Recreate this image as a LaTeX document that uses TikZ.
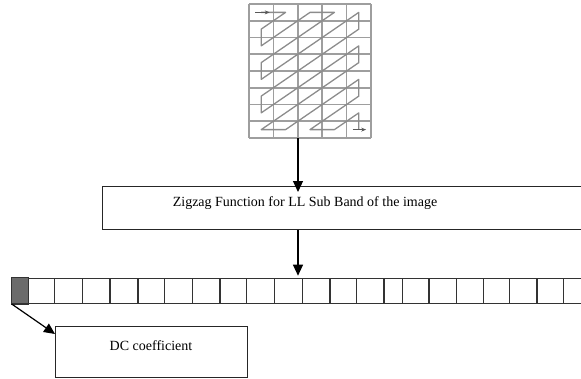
\documentclass[tikz,border=0pt]{standalone}
\usepackage{fontspec}
\setmainfont{Liberation Serif}
\usetikzlibrary{arrows.meta,calc}
\begin{document}
\begin{tikzpicture}[x=1pt,y=-1pt,
  gridline/.style={draw=black!38,line width=1.7pt},
  scanline/.style={draw=black!45,line width=1.3pt,line join=round},
  boxline/.style={draw=black!85,line width=1.2pt,inner sep=0pt,anchor=north west},
  flow/.style={draw=black,line width=1.2pt,-{Triangle[length=11pt,width=10pt]}},
  cellbox/.style={draw=black!80,line width=1.3pt,minimum height=25pt,inner sep=0pt,anchor=north west},
  txt/.style={font=\fontsize{14}{16}\selectfont,inner sep=0pt}
]
\clip (0,0) rectangle (581,378);

% 5 x 8 block with the zigzag scan order
\node[inner sep=0pt,minimum width=122pt,minimum height=134pt,anchor=north west] (grid) at (249,4) {};
\begin{scope}[shift={(grid.north west)},x=24.4pt,y=-16.75pt]
  \foreach \i in {0,...,5} \draw[gridline] (\i,0) -- (\i,8);
  \foreach \j in {0,...,8} \draw[gridline] (0,\j) -- (5,\j);
  \draw[scanline] (0.5,0.5) -- (1.5,0.5) -- (0.5,1.5) -- (0.5,2.5) -- (2.5,0.5) -- (3.5,0.5)
    -- (0.5,3.5) -- (0.5,4.5) -- (4.5,0.5) -- (4.5,1.5) -- (0.5,5.5) -- (0.5,6.5)
    -- (4.5,2.5) -- (4.5,3.5) -- (0.5,7.5) -- (1.5,7.5) -- (4.5,4.5) -- (4.5,5.5)
    -- (2.5,7.5) -- (3.5,7.5) -- (4.5,6.5) -- (4.5,7.5);
  \draw[scanline,draw=black!65,-{Stealth[length=5pt,width=4pt]}] (0.25,0.5) -- (0.85,0.5);
  \draw[scanline,draw=black!65,-{Stealth[length=5pt,width=4pt]}] (4.25,7.5) -- (4.8,7.5);
\end{scope}

% zigzag function box
\node[boxline,minimum width=500pt,minimum height=43pt] (zig) at (102,186) {};
\node[txt] (ziglabel) at (305,203) {Zigzag Function for LL Sub Band of the image};

% coefficient strip
\foreach \a/\b [count=\i] in {11.7/27.3,27.3/54,54/81.7,81.7/109.3,109.3/137.3,137.3/164,
    164/191.7,191.7/219.3,219.3/246,246/274,274/301.7,301.7/329.3,329.3/356,356/383.3,
    383.3/401.7,401.7/428.3,428.3/456,456/482.5,482.5/509,509/536.3,536.3/563,563/600}
  \node[cellbox,minimum width={(\b-\a)*1pt}] (c\i) at (\a,277.7) {};
\fill[black!58] (c1.north west) rectangle (c1.south east);
\draw[draw=black!80,line width=1.3pt] (c1.north west) rectangle (c1.south east);

% DC coefficient box
\node[boxline,minimum width=192pt,minimum height=50.5pt] (dc) at (55,326) {};
\node[txt] (dclabel) at (151,346) {DC coefficient};

% connectors
\coordinate (ax) at (298,0);
\draw[flow] (grid.south -| ax) -- ($(zig.north -| ax)+(0,6)$);
\draw[flow] (zig.south -| ax) -- ($(c11.north -| ax)+(0,-2)$);
\draw[flow] (c1.south west) -- ($(dc.north west)+(0,8)$);
\end{tikzpicture}
\end{document}
